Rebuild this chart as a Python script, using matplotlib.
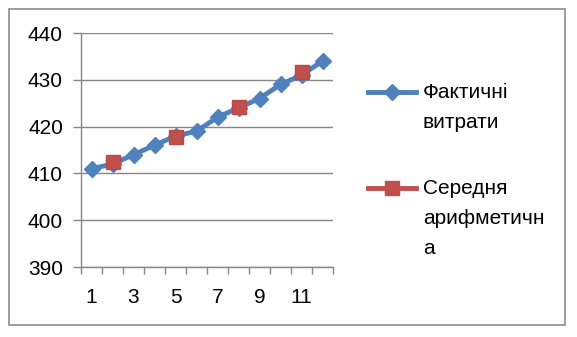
import matplotlib.pyplot as plt
from matplotlib.lines import Line2D
from matplotlib.patches import Rectangle

plt.rcParams['font.family'] = ['Liberation Sans', 'DejaVu Sans']

periods = list(range(1, 13))
actual_costs = [411, 412, 414, 416, 418, 419, 422, 424, 426, 429, 431, 434]
avg_periods = [2, 5, 8, 11]
avg_costs = [412.5, 417.8, 424.2, 431.7]
y_ticks = [390, 400, 410, 420, 430, 440]
x_labels = [1, 3, 5, 7, 9, 11]

blue = "#4F81BD"
red = "#C0504D"
grid_gray = "#868686"
fsize = 15

fig = plt.figure(figsize=(5.77, 3.37), dpi=100)
ax = fig.add_axes([81 / 577, 1 - 267 / 337, 252 / 577, 234 / 337])

ax.plot(periods, actual_costs, color=blue, linewidth=3.5, marker="D",
        markersize=8.5, zorder=3, clip_on=False)
ax.plot(avg_periods, avg_costs, color=red, linestyle="none", marker="s",
        markersize=10.5, markeredgecolor="#B84A47", zorder=4, clip_on=False)

ax.set_xlim(0.5, 12.5)
ax.set_ylim(390, 440)
ax.set_yticks(y_ticks)
ax.set_yticklabels([str(v) for v in y_ticks], fontsize=fsize)
ax.set_xticks(x_labels)
ax.set_xticklabels([str(v) for v in x_labels], fontsize=fsize)
ax.set_xticks([i + 0.5 for i in range(0, 13)], minor=True)
ax.tick_params(axis="x", which="major", length=0, pad=15)
ax.tick_params(axis="x", which="minor", length=5, color=grid_gray, width=1)
ax.tick_params(axis="y", length=6, color=grid_gray, width=1, pad=7)

ax.grid(axis="y", color=grid_gray, linewidth=1)
ax.set_axisbelow(True)
for side in ["top", "right"]:
    ax.spines[side].set_visible(False)
for side in ["left", "bottom"]:
    ax.spines[side].set_color(grid_gray)
    ax.spines[side].set_linewidth(1)

# legend drawn by hand so the handle sits on the first text line
def legend_entry(y_px, color, marker, msize, lines):
    y = 1 - y_px / 337
    fig.add_artist(Line2D([368 / 577, 416 / 577], [y, y], color=color,
                          linewidth=3.5, transform=fig.transFigure))
    fig.add_artist(Line2D([392 / 577], [y], color=color, marker=marker,
                          markersize=msize, transform=fig.transFigure))
    for i, line in enumerate(lines):
        fig.text(423 / 577, 1 - (y_px + i * 30) / 337, line,
                 fontsize=fsize, va="center", ha="left")

legend_entry(92, blue, "D", 8.5, ["Фактичні", "витрати"])
legend_entry(188, red, "s", 10.5, ["Середня", "арифметичн", "а"])

fig.add_artist(Rectangle((9 / 577, 1 - 325 / 337), 556 / 577, 316 / 337,
                         transform=fig.transFigure, fill=False,
                         edgecolor="#8C8C8C", linewidth=1.2))

fig.savefig("out.png", dpi=100)
